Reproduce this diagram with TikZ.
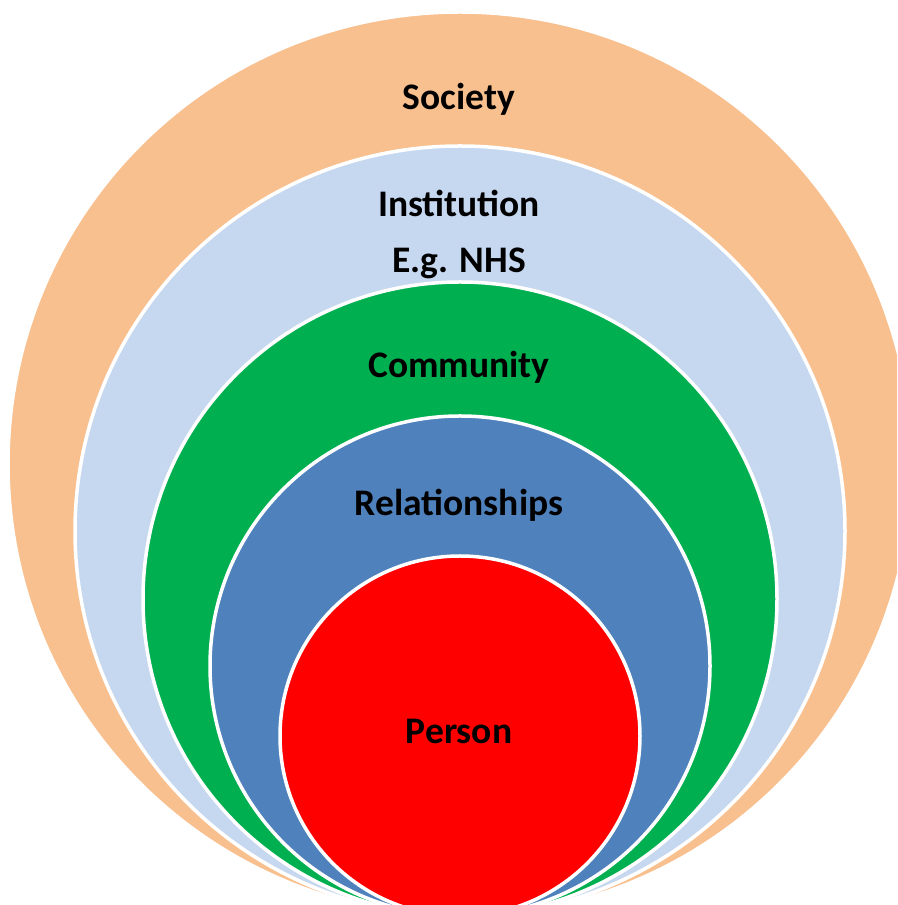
\documentclass[tikz,border=0pt]{standalone}
\usepackage{fontspec}
\setmainfont{Carlito}
\definecolor{societyorange}{RGB}{249, 192, 143}
\definecolor{instblue}{RGB}{198, 216, 240}
\definecolor{commgreen}{RGB}{0, 176, 80}
\definecolor{relblue}{RGB}{79, 129, 189}
\definecolor{personred}{RGB}{255, 0, 0}
\usetikzlibrary{positioning}

\begin{document}
\begin{tikzpicture}[
  x=1pt, y=1pt,
  ring/.style={circle, draw=white, line width=3.5pt, inner sep=0pt, outer sep=0pt},
  lbl/.style={anchor=base, inner sep=0pt, font=\fontsize{37.5}{45}\selectfont\bfseries},
]
  \useasboundingbox (0,0) rectangle (897,905);
  \clip (0,0) rectangle (897,905);
  % nested circles, all touching at the bottom
  \node[ring, fill=societyorange, minimum size=904pt] (society) at (460,441) {};
  \node[ring, fill=instblue, minimum size=770pt] (institution) at (460,374) {};
  \node[ring, fill=commgreen, minimum size=634pt] (community) at (460,306) {};
  \node[ring, fill=relblue, minimum size=500pt] (relationships) at (460,239) {};
  \node[ring, fill=personred, minimum size=360pt] (person) at (460,169) {};
  % labels
  \node[lbl] (societytxt) at (459,795) {Society};
  \node[lbl] (insttxt) at (459,688) {Institution};
  \node[lbl] (nhstxt) at (459,632) {E.g. NHS};
  \node[lbl] (commtxt) at (459,527) {Community};
  \node[lbl] (reltxt) at (459,389) {Relationships};
  \node[lbl] (persontxt) at (459,161) {Person};
\end{tikzpicture}
\end{document}
